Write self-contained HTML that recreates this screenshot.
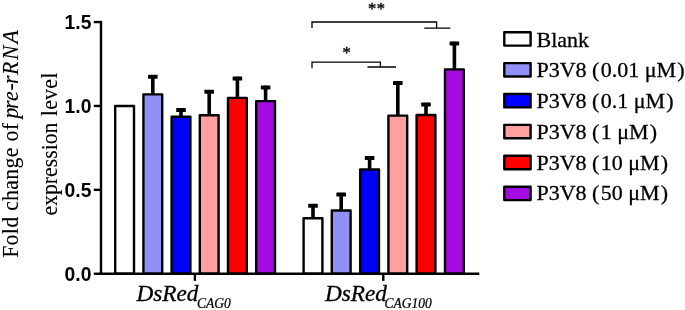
<!DOCTYPE html>
<html><head><meta charset="utf-8"><title>Fold change of pre-rRNA expression level</title>
<style>
html,body{margin:0;padding:0;background:#fff;}
body{width:685px;height:310px;overflow:hidden;}
svg{display:block;}
text{font-family:"Liberation Serif","Times New Roman",serif;fill:#000;}
.ax{font-family:"Liberation Sans",Arial,sans-serif;font-weight:bold;font-size:19.3px;}
.lg{font-size:22px;stroke:#000;stroke-width:0.3px;}
.yl{font-size:21.8px;stroke:#000;stroke-width:0.1px;}
.xl{font-size:22.6px;font-style:italic;stroke:#000;stroke-width:0.3px;}
.sub{font-size:14.6px;font-style:italic;stroke:#000;stroke-width:0.25px;}
.st{font-size:16.5px;fill:#111;stroke:#111;stroke-width:0.45px;}
</style></head><body>
<svg width="685" height="310" viewBox="0 0 685 310">
<rect width="685" height="310" fill="#fff"/>
<!-- y label -->
<g transform="translate(17.5,257.8) rotate(-90) scale(1,1.045)">
<text class="yl" textLength="134.7">Fold change of</text>
<text class="yl" font-style="italic" x="139.4 148.9 156.9 167.4 173.9 182.8 197.9 214.2">pre-rRNA</text>
</g>
<g transform="translate(56.9,215.6) rotate(-90) scale(1,1.045)">
<text class="yl" textLength="93.1">expression</text>
<text class="yl" x="99.4" textLength="43.5">level</text>
</g>
<!-- bars -->
<rect x="115.2" y="106.0" width="18.8" height="167.8" fill="#ffffff" stroke="#000" stroke-width="2.4" stroke-linejoin="round"/>
<rect x="151.00" y="75.0" width="3.6" height="19.4" fill="#000"/><rect x="148.0" y="74.7" width="9.6" height="4" rx="0.6" fill="#000"/><rect x="143.4" y="94.4" width="18.8" height="179.3" fill="#9090f7" stroke="#000" stroke-width="2.4" stroke-linejoin="round"/>
<rect x="179.20" y="108.4" width="3.6" height="8.4" fill="#000"/><rect x="176.2" y="108.1" width="9.6" height="4" rx="0.6" fill="#000"/><rect x="171.6" y="116.8" width="18.8" height="156.9" fill="#0000ff" stroke="#000" stroke-width="2.4" stroke-linejoin="round"/>
<rect x="207.40" y="90.0" width="3.6" height="25.3" fill="#000"/><rect x="204.4" y="89.7" width="9.6" height="4" rx="0.6" fill="#000"/><rect x="199.8" y="115.3" width="18.8" height="158.4" fill="#ff9f9f" stroke="#000" stroke-width="2.4" stroke-linejoin="round"/>
<rect x="235.60" y="76.8" width="3.6" height="21.1" fill="#000"/><rect x="232.6" y="76.5" width="9.6" height="4" rx="0.6" fill="#000"/><rect x="228.0" y="97.9" width="18.8" height="175.8" fill="#ff0000" stroke="#000" stroke-width="2.4" stroke-linejoin="round"/>
<rect x="263.80" y="85.7" width="3.6" height="15.4" fill="#000"/><rect x="260.8" y="85.4" width="9.6" height="4" rx="0.6" fill="#000"/><rect x="256.2" y="101.1" width="18.8" height="172.7" fill="#a40be0" stroke="#000" stroke-width="2.4" stroke-linejoin="round"/>
<rect x="311.20" y="204.1" width="3.6" height="14.1" fill="#000"/><rect x="308.2" y="203.8" width="9.6" height="4" rx="0.6" fill="#000"/><rect x="303.6" y="218.2" width="18.8" height="55.6" fill="#ffffff" stroke="#000" stroke-width="2.4" stroke-linejoin="round"/>
<rect x="339.40" y="192.9" width="3.6" height="17.6" fill="#000"/><rect x="336.4" y="192.6" width="9.6" height="4" rx="0.6" fill="#000"/><rect x="331.8" y="210.5" width="18.8" height="63.2" fill="#9090f7" stroke="#000" stroke-width="2.4" stroke-linejoin="round"/>
<rect x="367.80" y="156.4" width="3.6" height="13.1" fill="#000"/><rect x="364.8" y="156.1" width="9.6" height="4" rx="0.6" fill="#000"/><rect x="360.2" y="169.5" width="18.8" height="104.2" fill="#0000ff" stroke="#000" stroke-width="2.4" stroke-linejoin="round"/>
<rect x="396.00" y="81.4" width="3.6" height="34.2" fill="#000"/><rect x="393.0" y="81.1" width="9.6" height="4" rx="0.6" fill="#000"/><rect x="388.4" y="115.6" width="18.8" height="158.2" fill="#ff9f9f" stroke="#000" stroke-width="2.4" stroke-linejoin="round"/>
<rect x="424.20" y="102.9" width="3.6" height="12.1" fill="#000"/><rect x="421.2" y="102.6" width="9.6" height="4" rx="0.6" fill="#000"/><rect x="416.6" y="115.0" width="18.8" height="158.8" fill="#ff0000" stroke="#000" stroke-width="2.4" stroke-linejoin="round"/>
<rect x="452.60" y="41.7" width="3.6" height="27.7" fill="#000"/><rect x="449.6" y="41.4" width="9.6" height="4" rx="0.6" fill="#000"/><rect x="445.0" y="69.4" width="18.8" height="204.3" fill="#a40be0" stroke="#000" stroke-width="2.4" stroke-linejoin="round"/>
<!-- axes -->
<g stroke="#000" stroke-width="2.4" fill="none">
<path d="M101,20.85 V274.95"/>
<path d="M99.8,273.75 H479.3"/>
<path d="M93.8,22.05 H101"/>
<path d="M93.8,105.95 H101"/>
<path d="M93.8,189.85 H101"/>
<path d="M93.8,273.75 H101"/>
<path d="M194.9,273.75 V280.85"/>
<path d="M383.3,273.75 V280.85"/>
</g>
<text class="ax" x="91.4" y="29.0" text-anchor="end">1.5</text>
<text class="ax" x="91.4" y="112.9" text-anchor="end">1.0</text>
<text class="ax" x="91.4" y="196.8" text-anchor="end">0.5</text>
<text class="ax" x="91.4" y="280.8" text-anchor="end">0.0</text>
<!-- x labels -->
<text class="xl" transform="translate(136.5,300.5) scale(1.027,1)">DsRed</text>
<text class="sub" transform="translate(196.9,307.7) scale(0.93,1)">CAG0</text>
<text class="xl" transform="translate(325,300.5) scale(1.027,1)">DsRed</text>
<text class="sub" transform="translate(384.5,307.7) scale(0.925,1)">CAG100</text>
<!-- significance -->
<g stroke="#000" stroke-width="1.3" fill="none">
<path d="M312,28.1 V22 H436.6 V28.2 M424.2,28.2 H450.4"/>
<path d="M312,68.2 V62.2 H380.4 V67 M367.5,67 H396"/>
</g>
<text class="st" x="376.8" y="13.5" text-anchor="middle" letter-spacing="0.65">**</text>
<text class="st" x="346.5" y="57.5" text-anchor="middle">*</text>
<!-- legend -->
<rect x="504.3" y="32.2" width="26.3" height="13.4" fill="#ffffff" stroke="#000" stroke-width="2.4" stroke-linejoin="round"/>
<text x="536.5" y="46.5" class="lg">Blank</text>
<rect x="504.3" y="63.1" width="26.3" height="13.4" fill="#9090f7" stroke="#000" stroke-width="2.4" stroke-linejoin="round"/>
<text x="536.5" y="76.8" class="lg">P3V8 (<tspan dx="1.2">0.01 μM</tspan><tspan dx="1.2">)</tspan></text>
<rect x="504.3" y="94.0" width="26.3" height="13.4" fill="#0000ff" stroke="#000" stroke-width="2.4" stroke-linejoin="round"/>
<text x="536.5" y="107.7" class="lg">P3V8 (<tspan dx="1.2">0.1 μM</tspan><tspan dx="1.2">)</tspan></text>
<rect x="504.3" y="124.9" width="26.3" height="13.4" fill="#ff9f9f" stroke="#000" stroke-width="2.4" stroke-linejoin="round"/>
<text x="536.5" y="138.6" class="lg">P3V8 (<tspan dx="1.2">1 μM</tspan><tspan dx="1.2">)</tspan></text>
<rect x="504.3" y="155.8" width="26.3" height="13.4" fill="#ff0000" stroke="#000" stroke-width="2.4" stroke-linejoin="round"/>
<text x="536.5" y="169.5" class="lg">P3V8 (<tspan dx="1.2">10 μM</tspan><tspan dx="1.2">)</tspan></text>
<rect x="504.3" y="186.7" width="26.3" height="13.4" fill="#a40be0" stroke="#000" stroke-width="2.4" stroke-linejoin="round"/>
<text x="536.5" y="200.4" class="lg">P3V8 (<tspan dx="1.2">50 μM</tspan><tspan dx="1.2">)</tspan></text>
</svg>
</body></html>
